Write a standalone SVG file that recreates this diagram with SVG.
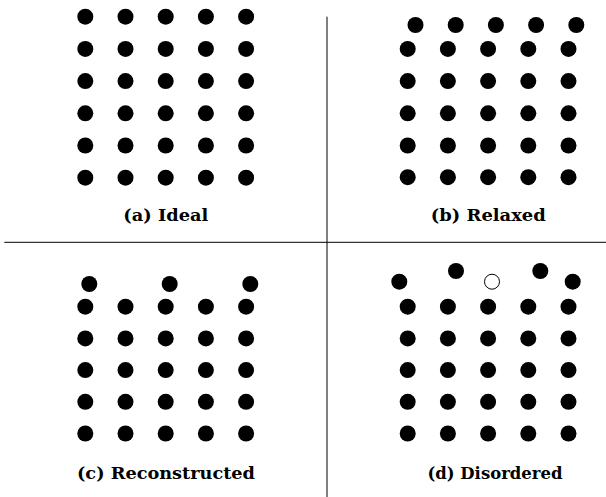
<svg xmlns="http://www.w3.org/2000/svg" width="606" height="497" viewBox="0 0 606 497">
<style>
.d{fill:#000}
.o{fill:#fff;stroke:#000;stroke-width:1}
.cap{font-family:"DejaVu Serif","Liberation Serif",serif;font-weight:bold;font-size:17px;fill:#000;text-anchor:middle}
.rule{stroke:#000;stroke-width:1;fill:none}
</style>
<defs>
<circle id="dot" r="8" class="d"/>
<g id="row5">
<use href="#dot" x="0"/><use href="#dot" x="40.2"/><use href="#dot" x="80.4"/><use href="#dot" x="120.6"/><use href="#dot" x="160.8"/>
</g>
</defs>
<rect width="606" height="497" fill="#fff"/>
<g id="connectors">
<line class="rule" x1="327" y1="16.7" x2="327" y2="497"/>
<line class="rule" x1="4.3" y1="242.3" x2="606" y2="242.3"/>
</g>
<g id="panel-a">
<use href="#row5" x="85.3" y="16.7"/>
<use href="#row5" x="85.3" y="48.9"/>
<use href="#row5" x="85.3" y="81.1"/>
<use href="#row5" x="85.3" y="113.3"/>
<use href="#row5" x="85.3" y="145.5"/>
<use href="#row5" x="85.3" y="177.7"/>
<text class="cap" x="165.8" y="221" textLength="85" lengthAdjust="spacingAndGlyphs">(a) Ideal</text>
</g>
<g id="panel-b">
<use href="#row5" x="415.5" y="25"/>
<use href="#row5" x="407.7" y="48.9"/>
<use href="#row5" x="407.7" y="81.1"/>
<use href="#row5" x="407.7" y="113.3"/>
<use href="#row5" x="407.7" y="145.5"/>
<use href="#row5" x="407.7" y="177.2"/>
<text class="cap" x="488.3" y="221" textLength="115" lengthAdjust="spacingAndGlyphs">(b) Relaxed</text>
</g>
<g id="panel-c">
<use href="#dot" x="89.3" y="284"/>
<use href="#dot" x="169.7" y="284"/>
<use href="#dot" x="250.3" y="284"/>
<use href="#row5" x="85.3" y="306.7"/>
<use href="#row5" x="85.3" y="338.4"/>
<use href="#row5" x="85.3" y="370.1"/>
<use href="#row5" x="85.3" y="401.8"/>
<use href="#row5" x="85.3" y="433.5"/>
<text class="cap" x="166" y="479" textLength="178" lengthAdjust="spacingAndGlyphs">(c) Reconstructed</text>
</g>
<g id="panel-d">
<use href="#dot" x="399.3" y="281.7"/>
<use href="#dot" x="456" y="271"/>
<circle class="o" cx="492" cy="281.7" r="7.5"/>
<use href="#dot" x="540.3" y="271"/>
<use href="#dot" x="572.7" y="281.7"/>
<use href="#row5" x="407.7" y="306.7"/>
<use href="#row5" x="407.7" y="338.4"/>
<use href="#row5" x="407.7" y="370.1"/>
<use href="#row5" x="407.7" y="401.8"/>
<use href="#row5" x="407.7" y="433.5"/>
<text class="cap" x="495" y="479" textLength="135" lengthAdjust="spacingAndGlyphs">(d) Disordered</text>
</g>
</svg>
